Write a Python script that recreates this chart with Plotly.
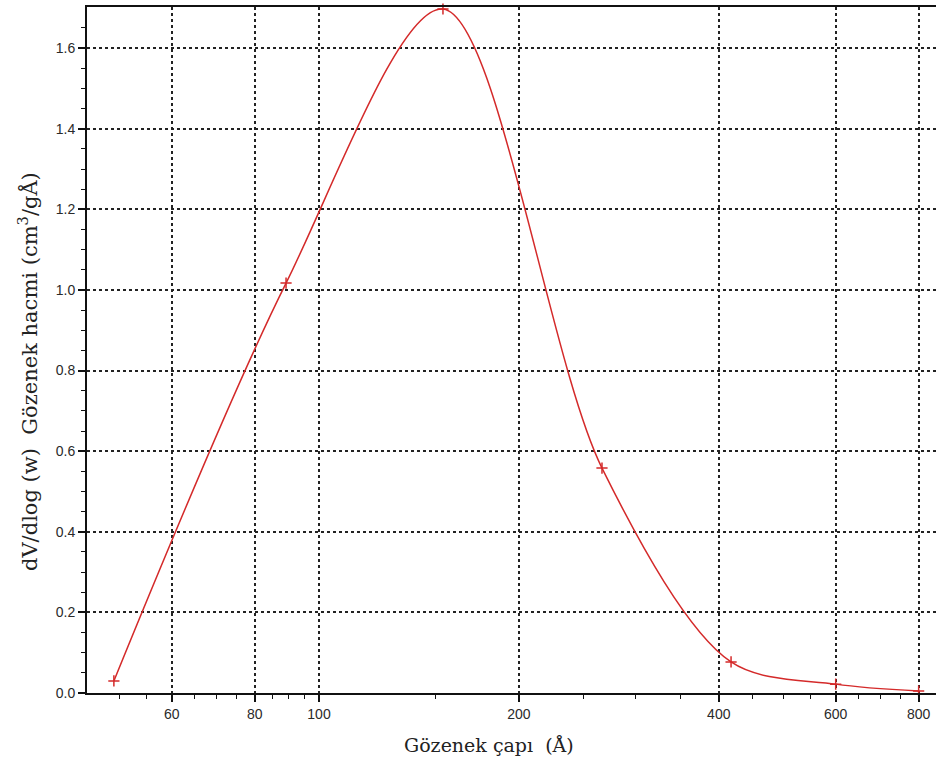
import math
import plotly.graph_objects as go

# Data
pore_diameter = [49.1, 89.2, 153.7, 266.8, 417.4, 600, 800]
pore_volume = [0.030, 1.017, 1.697, 0.558, 0.077, 0.022, 0.005]

x_tickvals = [60, 80, 100, 200, 400, 600, 800]
x_ticktext = ["60", "80", "100", "200", "400", "600", "800"]
x_minor = [50, 55, 65, 70, 75, 85, 90, 95, 150, 250, 300, 350, 450, 500, 550, 650, 700, 750]
y_tickvals = [0.0, 0.2, 0.4, 0.6, 0.8, 1.0, 1.2, 1.4, 1.6]
y_ticktext = ["0.0", "0.2", "0.4", "0.6", "0.8", "1.0", "1.2", "1.4", "1.6"]
y_minor = [0.05, 0.1, 0.15, 0.25, 0.3, 0.35, 0.45, 0.5, 0.55, 0.65, 0.7, 0.75, 0.85, 0.9, 0.95,
           1.05, 1.1, 1.15, 1.25, 1.3, 1.35, 1.45, 1.5, 1.55, 1.65]

RED = "#d42a2a"

fig = go.Figure()
fig.add_trace(go.Scatter(
    x=pore_diameter, y=pore_volume, mode="lines+markers",
    line=dict(color=RED, width=1.5, shape="spline", smoothing=0.9),
    marker=dict(symbol="cross-thin", size=8, line=dict(color=RED, width=1.5)),
    showlegend=False, cliponaxis=False,
))

tickfont = dict(family="Liberation Sans, Arial", size=14, color="#2a2a2a")
grid = dict(showgrid=True, gridcolor="#222", gridwidth=1.5, griddash="3px,3px")

fig.update_xaxes(
    type="log", range=[1.6506, 2.9292], automargin=False,
    tickmode="array", tickvals=x_tickvals, ticktext=x_ticktext,
    ticks="outside", ticklen=7, tickwidth=1.5, tickcolor="#111",
    showline=True, linecolor="#111", linewidth=2, mirror=True,
    minor=dict(tickmode="array", tickvals=x_minor, ticks="outside", ticklen=4,
               tickwidth=1.2, tickcolor="#111", showgrid=False),
    tickfont=tickfont, zeroline=False, **grid,
)
fig.update_yaxes(
    range=[0, 1.702], automargin=False,
    tickmode="array", tickvals=y_tickvals, ticktext=y_ticktext,
    ticks="outside", ticklen=7, tickwidth=1.5, tickcolor="#111",
    showline=True, linecolor="#111", linewidth=2, mirror=False,
    minor=dict(tickmode="array", tickvals=y_minor, ticks="outside", ticklen=4,
               tickwidth=1.2, tickcolor="#111", showgrid=False),
    tickfont=tickfont, zeroline=False, **grid,
)

serif_x = dict(family="DejaVu Serif", size=19, color="#222")
serif_y = dict(family="DejaVu Serif", size=21, color="#222")
fig.update_layout(
    width=936, height=762,
    margin=dict(l=87, r=0, t=7, b=69),
    paper_bgcolor="white", plot_bgcolor="white",
    annotations=[
        dict(text="Gözenek çapı  (Å)", xref="paper", yref="paper",
             x=(489 - 87) / 849, y=-(745 - 693) / 686, xanchor="center", yanchor="middle",
             showarrow=False, font=serif_x),
        dict(text="dV/dlog (w)  Gözenek hacmi (cm<sup>3</sup>/gÅ)", xref="paper", yref="paper",
             x=-(87 - 28) / 849, y=(693 - 372) / 686, xanchor="center", yanchor="middle",
             textangle=-90, showarrow=False, font=serif_y),
    ],
)

fig.write_html("out.html", config={"displayModeBar": False},
               post_script="document.body.style.margin='0';")
